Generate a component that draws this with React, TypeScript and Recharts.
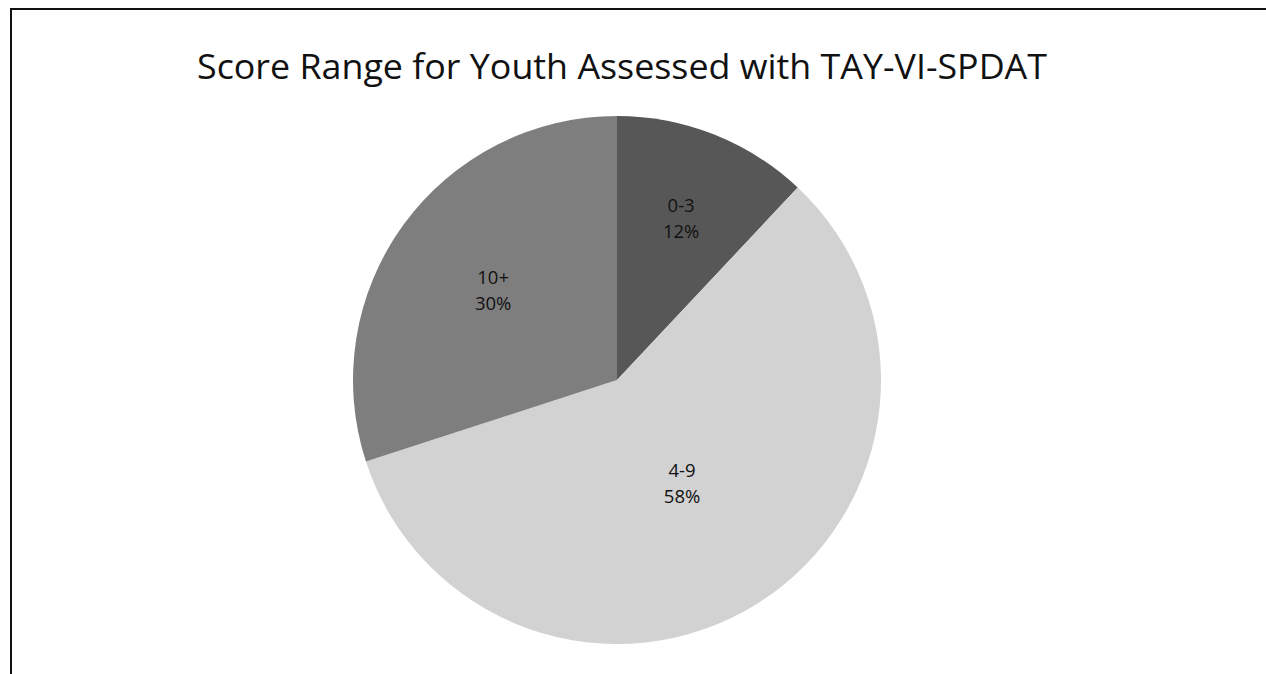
import React from "react";
import { PieChart, Pie, Cell } from "recharts";

// Score bands and share of youth in each band (percent)
const categories = ["0-3", "4-9", "10+"];
const shares = [12, 58, 30];
const sliceColors = ["#575757", "#d2d2d2", "#7e7e7e"];
const labelRadiusFactor = [0.66, 0.46, 0.58];

const TITLE = "Score Range for Youth Assessed with TAY-VI-SPDAT";

const data = categories.map((name, i) => ({ name, value: shares[i] }));

const RAD = Math.PI / 180;

const renderLabel = (props: any) => {
  const { cx, cy, midAngle, outerRadius, index, name, value } = props;
  const r = outerRadius * labelRadiusFactor[index];
  const x = cx + r * Math.cos(-midAngle * RAD);
  const y = cy + r * Math.sin(-midAngle * RAD);
  return (
    <text
      x={x}
      y={y}
      textAnchor="middle"
      fill="#111"
      fontFamily="'Open Sans', 'Noto Sans', sans-serif"
      fontSize={18.5}
    >
      <tspan x={x} dy={-6}>{name}</tspan>
      <tspan x={x} dy={26}>{`${value}%`}</tspan>
    </text>
  );
};

export default function App() {
  return (
    <div
      style={{
        position: "absolute",
        left: 0,
        top: 0,
        width: 1266,
        height: 674,
        background: "#fff",
        overflow: "hidden",
      }}
    >
      {/* frame edges: left and top */}
      <div
        style={{
          position: "absolute",
          left: 10,
          top: 8,
          width: 2,
          height: 666,
          background: "#111",
        }}
      />
      <div
        style={{
          position: "absolute",
          left: 10,
          top: 8,
          width: 1256,
          height: 2,
          background: "#111",
        }}
      />
      <svg
        width={1266}
        height={100}
        style={{ position: "absolute", left: 0, top: 0 }}
      >
        <text
          x={622}
          y={79}
          textAnchor="middle"
          fontFamily="'Open Sans', 'Noto Sans', sans-serif"
          fontSize={35}
          fill="#111"
          textLength={850}
          lengthAdjust="spacingAndGlyphs"
        >
          {TITLE}
        </text>
      </svg>
      <div style={{ position: "absolute", left: 0, top: 0 }}>
        <PieChart
          width={1266}
          height={674}
          margin={{ top: 0, right: 0, bottom: 0, left: 0 }}
        >
          <Pie
            data={data}
            dataKey="value"
            nameKey="name"
            cx={617}
            cy={380}
            outerRadius={264}
            startAngle={90}
            endAngle={-270}
            stroke="none"
            label={renderLabel}
            labelLine={false}
            isAnimationActive={false}
          >
            {data.map((d, i) => (
              <Cell key={d.name} fill={sliceColors[i]} />
            ))}
          </Pie>
        </PieChart>
      </div>
    </div>
  );
}
